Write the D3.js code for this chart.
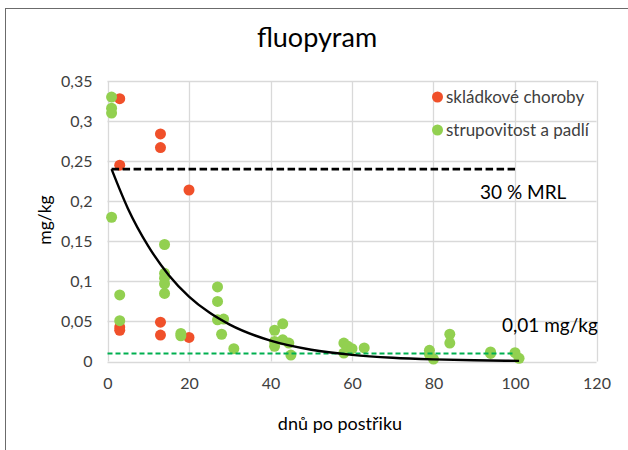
<!DOCTYPE html>
<html>
<head>
<meta charset="utf-8">
<script src="https://cdn.jsdelivr.net/npm/d3@7"></script>
<style>
  html, body { margin: 0; padding: 0; background: #fff; }
  svg { display: block; font-family: Lato, "Open Sans", sans-serif; }
</style>
</head>
<body>
<svg id="chart" width="628" height="450"></svg>
<script>
// ---- data ----
const redX = [3, 3, 13, 13, 20, 3, 3, 13, 13, 20];
const redY = [0.328, 0.245, 0.284, 0.267, 0.214, 0.043, 0.039, 0.049, 0.033, 0.030];

const greenX = [1, 1, 1, 1, 3, 3, 14, 14, 14, 14, 14, 18, 18,
                27, 27, 27, 28.5, 28, 31,
                41, 43, 41, 41, 43, 44.5, 45,
                58, 59, 63, 58, 60,
                79, 79, 80, 84, 84, 94, 94, 100, 101];
const greenY = [0.330, 0.316, 0.310, 0.180, 0.083, 0.051, 0.146, 0.110, 0.104, 0.097, 0.085, 0.035, 0.032,
                0.093, 0.075, 0.052, 0.053, 0.034, 0.016,
                0.039, 0.047, 0.025, 0.019, 0.027, 0.023, 0.008,
                0.023, 0.019, 0.017, 0.0105, 0.016,
                0.014, 0.009, 0.003, 0.034, 0.023, 0.012, 0.010, 0.011, 0.004];

// trend curve
const trendX = [1, 5, 10, 15, 20, 25, 30, 40, 50, 60, 70, 80, 90, 101];
const trendY = [0.240, 0.191, 0.144, 0.108, 0.081, 0.061, 0.046, 0.026, 0.0147, 0.0083, 0.0047, 0.0027, 0.0015, 0.0008];

const mrlX = [1, 100];
const mrlY = [0.24, 0.24];
const loqX = [0, 100];
const loqY = [0.01, 0.01];

const xTicks = [0, 20, 40, 60, 80, 100, 120];
const yTicks = [0, 0.05, 0.1, 0.15, 0.2, 0.25, 0.3, 0.35];
const seriesNames = ["skládkové choroby", "strupovitost a padlí"];

// ---- layout ----
const svg = d3.select("#chart");
const x = d3.scaleLinear().domain([0, 120]).range([107.5, 596.5]);
const y = d3.scaleLinear().domain([0, 0.35]).range([361.5, 81]);
const fmt = d => d3.format("")(d).replace(".", ",");

// outer frame
svg.append("rect").attr("x", 5.5).attr("y", 8.5).attr("width", 640).attr("height", 460)
  .attr("fill", "#fff").attr("stroke", "#6b6b6b").attr("stroke-width", 1);

// gridlines
svg.append("g").selectAll("line").data(yTicks).join("line")
  .attr("x1", x(0)).attr("x2", x(120))
  .attr("y1", d => Math.round(y(d)) + 0.5).attr("y2", d => Math.round(y(d)) + 0.5)
  .attr("stroke", "#d9d9d9").attr("stroke-width", 1.3);
svg.append("g").selectAll("line").data(xTicks).join("line")
  .attr("x1", d => Math.round(x(d)) + 0.5).attr("x2", d => Math.round(x(d)) + 0.5)
  .attr("y1", y(0)).attr("y2", y(0.35))
  .attr("stroke", "#d9d9d9").attr("stroke-width", 1.3);

// axes (labels only)
const xAxis = svg.append("g").attr("transform", `translate(0,${y(0)})`)
  .call(d3.axisBottom(x).tickValues(xTicks).tickSize(0).tickPadding(16).tickFormat(fmt));
xAxis.select(".domain").remove();
xAxis.selectAll("text").attr("font-size", 16).attr("fill", "#404040").attr("font-family", "Lato, sans-serif");

const yAxis = svg.append("g").attr("transform", `translate(${x(0)},0)`)
  .call(d3.axisLeft(y).tickValues(yTicks).tickSize(0).tickPadding(15).tickFormat(fmt));
yAxis.select(".domain").remove();
yAxis.selectAll("text").attr("font-size", 16).attr("fill", "#404040").attr("font-family", "Lato, sans-serif");

// points
const red = "#f0502a", green = "#92d050";
svg.append("g").selectAll("circle").data(redX.map((v, i) => [v, redY[i]])).join("circle")
  .attr("cx", d => x(d[0])).attr("cy", d => y(d[1])).attr("r", 5.5).attr("fill", red);
svg.append("g").selectAll("circle").data(greenX.map((v, i) => [v, greenY[i]])).join("circle")
  .attr("cx", d => x(d[0])).attr("cy", d => y(d[1])).attr("r", 5.5).attr("fill", green);

// lines
const line = d3.line().x(d => x(d[0])).y(d => y(d[1]));
svg.append("path").datum(mrlX.map((v, i) => [v, mrlY[i]])).attr("d", line)
  .attr("fill", "none").attr("stroke", "#000").attr("stroke-width", 2.6).attr("stroke-dasharray", "7.5,3.5");
svg.append("path").datum(loqX.map((v, i) => [v, loqY[i]])).attr("d", line)
  .attr("fill", "none").attr("stroke", "#00b050").attr("stroke-width", 2).attr("stroke-dasharray", "5,3");
svg.append("path").datum(trendX.map((v, i) => [v, trendY[i]]))
  .attr("d", line.curve(d3.curveMonotoneX))
  .attr("fill", "none").attr("stroke", "#000").attr("stroke-width", 2.4);

// annotations
svg.append("text").attr("x", 480).attr("y", 199).attr("font-size", 19).attr("fill", "#000").text("30 % MRL");
svg.append("text").attr("x", 502).attr("y", 332).attr("font-size", 19).attr("fill", "#000").text("0,01 mg/kg");

// legend
const leg = svg.append("g");
[red, green].forEach((c, i) => {
  const ly = 97 + i * 33;
  leg.append("circle").attr("cx", 437.5).attr("cy", ly).attr("r", 5.5).attr("fill", c);
  leg.append("text").attr("x", 446).attr("y", ly + 6).attr("font-size", 17).attr("fill", "#404040").text(seriesNames[i]);
});

// title & axis titles
svg.append("text").attr("x", 317).attr("y", 47).attr("text-anchor", "middle")
  .attr("font-size", 27).attr("fill", "#000").text("fluopyram");
svg.append("text").attr("x", 340).attr("y", 430).attr("text-anchor", "middle")
  .attr("font-size", 18).attr("fill", "#000").text("dnů po postřiku");
svg.append("text").attr("transform", "translate(51,220) rotate(-90)").attr("text-anchor", "middle")
  .attr("font-size", 17.5).attr("fill", "#000").text("mg/kg");
</script>
</body>
</html>
